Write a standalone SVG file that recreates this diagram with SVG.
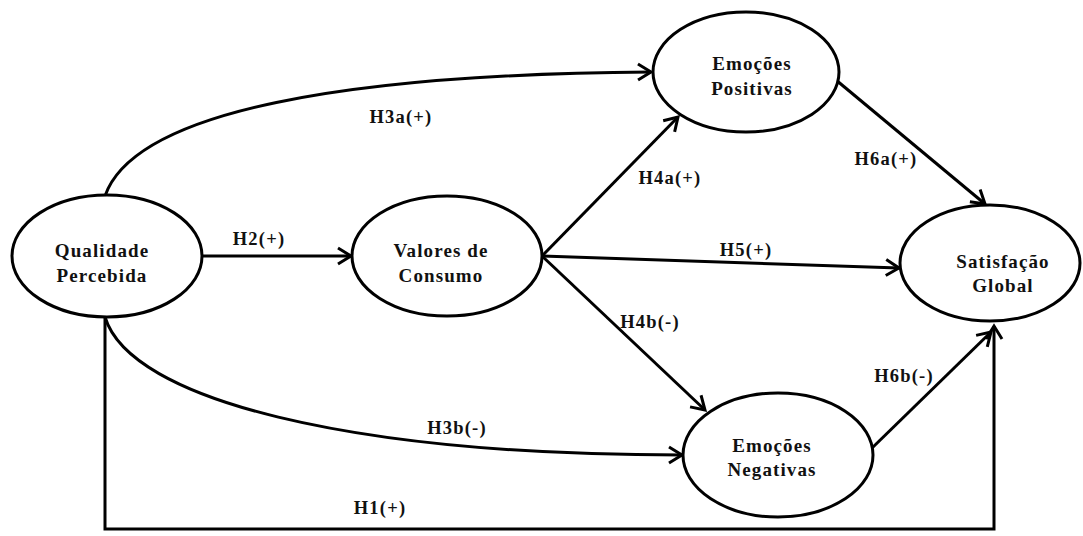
<svg xmlns="http://www.w3.org/2000/svg" width="1083" height="536" viewBox="0 0 1083 536">
<style>
.node ellipse{fill:#fff;stroke:#000;stroke-width:3}
.node text{font-family:"Liberation Serif","Times New Roman",serif;font-weight:bold;font-size:19px;letter-spacing:1.1px;text-anchor:middle;fill:#111}
.edge{fill:none;stroke:#000;stroke-width:3;marker-end:url(#arr)}
.lbl{font-family:"Liberation Serif","Times New Roman",serif;font-weight:bold;font-size:18.5px;letter-spacing:1.2px;text-anchor:middle;fill:#111}
</style>
<defs>
<marker id="arr" markerUnits="userSpaceOnUse" viewBox="-16 -10 18 20" refX="0" refY="0" markerWidth="18" markerHeight="20" orient="auto" overflow="visible">
<path d="M-13,-8 L0,0 L-13,8" fill="none" stroke="#000" stroke-width="3" stroke-linejoin="miter"/>
</marker>
</defs>
<rect width="1083" height="536" fill="#fff"/>
<g id="connectors">
<path class="edge" d="M203,256 L351,256"/>
<path class="edge" d="M105,196 C135,110 350,74 651,72"/>
<path class="edge" d="M105,317 C130,400 350,455 682,455"/>
<path class="edge" d="M105,317 V529 H994 V326"/>
<path class="edge" d="M871,449 L991,332"/>
<path class="edge" d="M542,256 L678,117"/>
<path class="edge" d="M542,256 L899,268"/>
<path class="edge" d="M542,256 L705,410"/>
<path class="edge" d="M836,80 L985,204"/>
<text class="lbl" x="259" y="245">H2(+)</text>
<text class="lbl" x="401" y="123">H3a(+)</text>
<text class="lbl" x="670" y="184">H4a(+)</text>
<text class="lbl" x="746" y="256">H5(+)</text>
<text class="lbl" x="886" y="165">H6a(+)</text>
<text class="lbl" x="650" y="328">H4b(-)</text>
<text class="lbl" x="904" y="382">H6b(-)</text>
<text class="lbl" x="457" y="434">H3b(-)</text>
<text class="lbl" x="380" y="514">H1(+)</text>
</g>
<g id="qualidade" class="node">
<ellipse cx="107" cy="256" rx="95" ry="61"/>
<text x="102" y="257">Qualidade</text>
<text x="102" y="282">Percebida</text>
</g>
<g id="valores" class="node">
<ellipse cx="447" cy="256" rx="95" ry="60"/>
<text x="441" y="257">Valores de</text>
<text x="441" y="282">Consumo</text>
</g>
<g id="positivas" class="node">
<ellipse cx="746" cy="72" rx="93" ry="60"/>
<text x="752" y="70">Emoções</text>
<text x="752" y="95">Positivas</text>
</g>
<g id="satisfacao" class="node">
<ellipse cx="990" cy="263" rx="90" ry="58"/>
<text x="1003" y="268">Satisfação</text>
<text x="1003" y="292">Global</text>
</g>
<g id="negativas" class="node">
<ellipse cx="778" cy="455" rx="95" ry="62"/>
<text x="772" y="452">Emoções</text>
<text x="772" y="476">Negativas</text>
</g>
</svg>
